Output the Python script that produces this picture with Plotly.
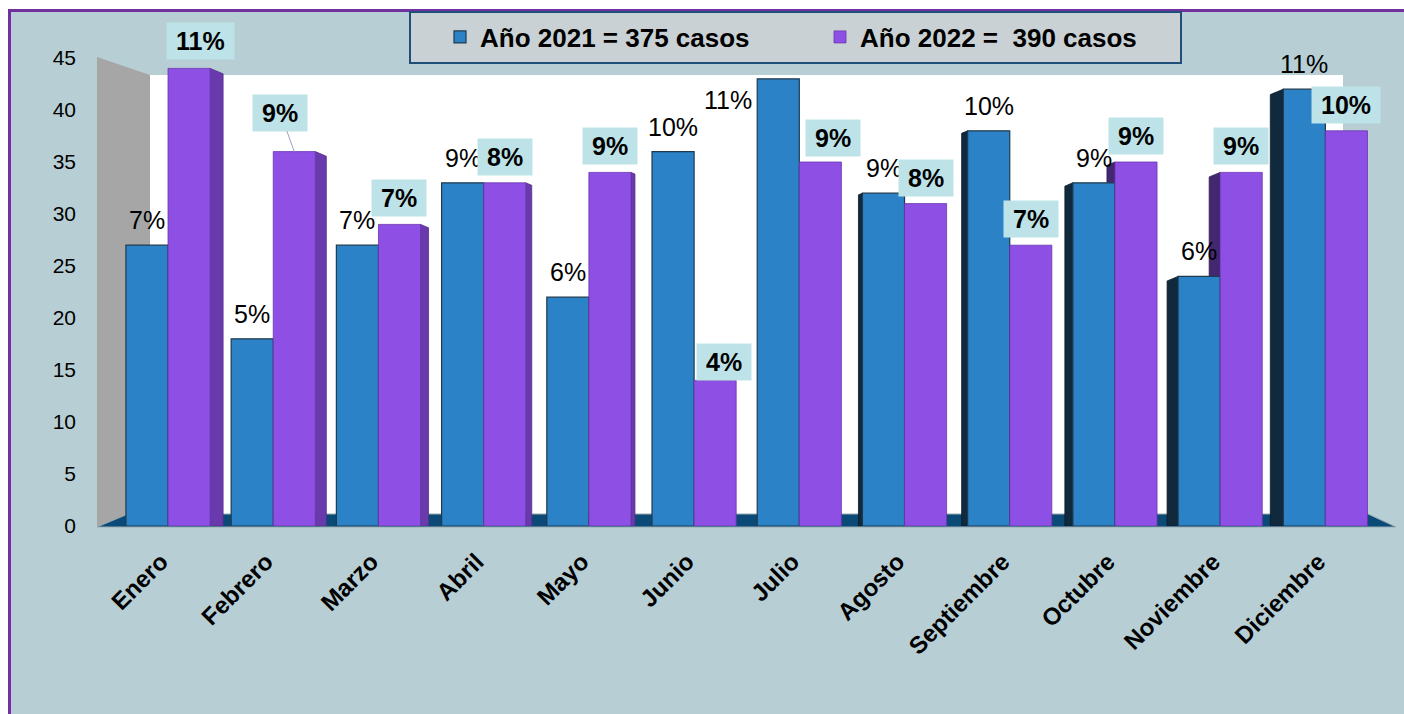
import plotly.graph_objects as go

months = ["Enero", "Febrero", "Marzo", "Abril", "Mayo", "Junio",
          "Julio", "Agosto", "Septiembre", "Octubre", "Noviembre", "Diciembre"]
cases_2021 = [27, 18, 27, 33, 22, 36, 43, 32, 38, 33, 24, 42]
cases_2022 = [44, 36, 29, 33, 34, 14, 35, 31, 27, 35, 34, 38]
y_ticks = [0, 5, 10, 15, 20, 25, 30, 35, 40, 45]

total_2021 = sum(cases_2021)
total_2022 = sum(cases_2022)
name_2021 = f"<b>Año 2021 = {total_2021} casos</b>"
name_2022 = f"<b>Año 2022 =\u00a0 {total_2022} casos</b>"

# ---- layout geometry (pixels) ----
W, H = 1404, 714
L, R, T, B = 97, 1378, 58, 526

def px(x):
    return (x - L) / (R - L)

def py(y):
    return (B - y) / (B - T)

FONT = "Liberation Sans, Arial, sans-serif"
BLUE = "#2b82c6"
PURPLE = "#8d4fe4"

fig = go.Figure()
fig.add_trace(go.Bar(x=months, y=cases_2021, name=name_2021,
                     marker=dict(color=BLUE, line=dict(color="#1f3a4d", width=1.2))))
fig.add_trace(go.Bar(x=months, y=cases_2022, name=name_2022,
                     marker=dict(color=PURPLE, line=dict(color="#6a35b0", width=0.8))))

shapes = [
    # outer background with purple frame
    dict(type="rect", xref="paper", yref="paper", x0=px(9.5), x1=px(1440), y0=py(10.5), y1=py(760),
         fillcolor="#b7ced5", line=dict(color="#7030a0", width=3), layer="below"),
    # white back wall
    dict(type="rect", xref="paper", yref="paper", x0=px(150), x1=px(1343), y0=py(75), y1=py(516),
         fillcolor="white", line=dict(width=0), layer="below"),
    # grey side wall
    dict(type="path", xref="paper", yref="paper",
         path=f"M {px(97)},{py(57)} L {px(150)},{py(75)} L {px(150)},{py(516)} L {px(97)},{py(527)} Z",
         fillcolor="#a6a6a6", line=dict(width=0), layer="below"),
    # floor
    dict(type="path", xref="paper", yref="paper",
         path=f"M {px(97)},{py(527)} L {px(128)},{py(514)} L {px(1368)},{py(514)} L {px(1396)},{py(527)} Z",
         fillcolor="#0b4a76", line=dict(color="#9aa9b0", width=1), layer="below"),
    # legend box
    dict(type="rect", xref="paper", yref="paper", x0=px(410), x1=px(1181), y0=py(12), y1=py(63),
         fillcolor="#c9d1d4", line=dict(color="#1f4e79", width=2), layer="below"),
]

# pseudo-3D side faces of the bars (perspective: right faces on the left half, left faces on the right half)
CENTER = 5.5
for i in range(len(months)):
    w = round(2.4 * abs(CENTER - i))
    if w < 3:
        continue
    slope = 0.04 * w
    if i < CENTER:
        v = cases_2022[i]
        shapes.append(dict(type="path", xref="x", yref="y", xsizemode="pixel", xanchor=i + 0.4,
                           path=f"M 0,0 L {w},0 L {w},{v - slope} L 0,{v} Z",
                           fillcolor="#683aab", line=dict(color="#55308c", width=0.8), layer="below"))
    else:
        v2 = cases_2022[i]
        shapes.append(dict(type="path", xref="x", yref="y", xsizemode="pixel", xanchor=i,
                           path=f"M 0,0 L {-w},0 L {-w},{v2 - slope} L 0,{v2} Z",
                           fillcolor="#43286f", line=dict(color="#2f1b52", width=0.8), layer="below"))
        v1 = cases_2021[i]
        shapes.append(dict(type="path", xref="x", yref="y", xsizemode="pixel", xanchor=i - 0.4,
                           path=f"M 0,0 L {-w},0 L {-w},{v1 - slope} L 0,{v1} Z",
                           fillcolor="#10293d", line=dict(color="#0a1b29", width=0.8), layer="below"))

annotations = []
blue_nudge = {6: (-50, -21)}      # (dx, dy) pixels, label placement tweaks
purple_nudge = {0: (11, 27), 1: (-14, 39), 5: (9, 18), 6: (13, 24)}
for i, m in enumerate(months):
    p1 = round(cases_2021[i] / total_2021 * 100)
    dx, dy = blue_nudge.get(i, (0, 25))
    annotations.append(dict(x=m, y=cases_2021[i], text=f"{p1}%", showarrow=False,
                            xshift=-21 + dx, yshift=dy, yanchor="middle",
                            font=dict(family=FONT, size=25, color="black")))
    p2 = round(cases_2022[i] / total_2022 * 100)
    dx, dy = purple_nudge.get(i, (0, 26))
    common = dict(x=m, y=cases_2022[i], text=f"\u2009<b>{p2}%</b>\u2009",
                  bgcolor="#bde3e8", borderpad=4,
                  font=dict(family=FONT, size=25, color="black"))
    if i == 1:
        annotations.append(dict(**common, showarrow=True, arrowhead=0, arrowwidth=1,
                                arrowcolor="#9aa3c0", ax=dx, ay=-dy, xshift=21, standoff=0))
    else:
        annotations.append(dict(**common, showarrow=False, xshift=21 + dx, yshift=dy,
                                yanchor="middle"))

fig.update_layout(
    width=W, height=H,
    margin=dict(l=L, r=W - R, t=T, b=H - B, autoexpand=False),
    paper_bgcolor="white", plot_bgcolor="rgba(0,0,0,0)",
    barmode="group", bargap=0.2, bargroupgap=0,
    shapes=shapes, annotations=annotations,
    showlegend=True,
    legend=dict(orientation="h", x=px(440), xanchor="left", y=py(37), yanchor="middle",
                bgcolor="rgba(0,0,0,0)", borderwidth=0, entrywidth=335, entrywidthmode="pixels",
                font=dict(family=FONT, size=26, color="black"), itemclick=False),
    font=dict(family=FONT, color="black"),
)
fig.update_xaxes(type="category", range=[-0.675, 11.5], showgrid=False, zeroline=False,
                 showline=False, ticks="", tickangle=-45,
                 tickvals=months, ticktext=[f"<b>{m}</b>" for m in months],
                 tickfont=dict(family=FONT, size=24, color="black"),
                 ticklabelstandoff=16, ticklabelshift=-7)
fig.update_yaxes(range=[0, 45], tickvals=y_ticks, showgrid=False, zeroline=False,
                 showline=False, ticks="", ticklabelstandoff=20,
                 tickfont=dict(family=FONT, size=21, color="black"))

fig.write_html("out.html", config={"displayModeBar": False},
               post_script="document.body.style.margin='0';document.body.style.overflow='hidden';")
